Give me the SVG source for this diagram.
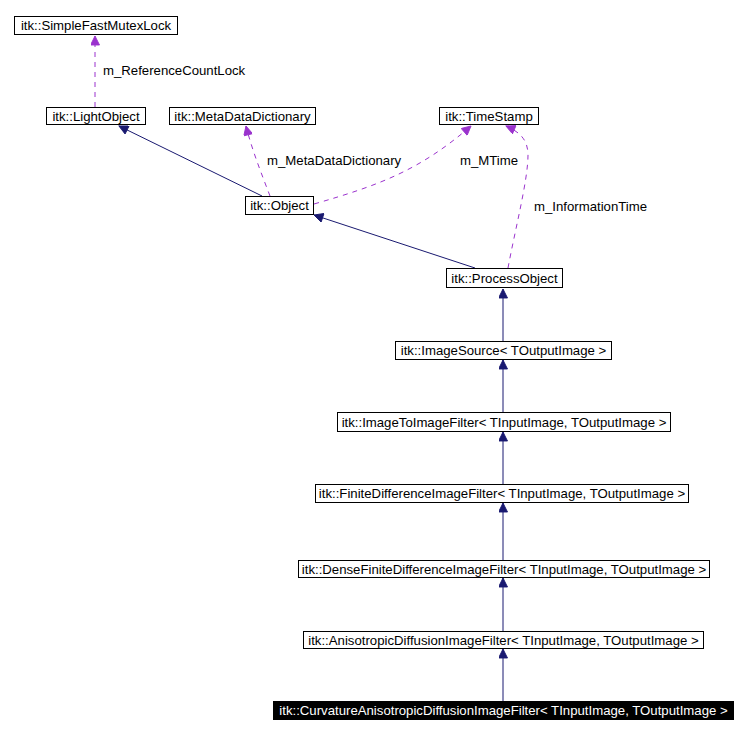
<svg xmlns="http://www.w3.org/2000/svg" width="746" height="734" viewBox="0 0 746 734">
<style>
.box{fill:#fff;stroke:#000;stroke-width:1}
.t{font-family:"Liberation Sans",Arial,sans-serif;font-size:13.2px;fill:#000;text-anchor:middle}
.lbl{font-family:"Liberation Sans",Arial,sans-serif;font-size:13.2px;fill:#000}
.inh{fill:none;stroke:#191970;stroke-width:1}
.use{fill:none;stroke:#9a32cd;stroke-width:1;stroke-dasharray:5,5}
</style>
<defs>
<marker id="ah" viewBox="0 0 10 10" refX="10" refY="5" markerWidth="14" markerHeight="9" markerUnits="userSpaceOnUse" orient="auto"><path d="M0,0 L10,5 L0,10 z" fill="#191970" stroke="#191970"/></marker>
<marker id="ap" viewBox="0 0 10 10" refX="10" refY="5" markerWidth="14" markerHeight="9" markerUnits="userSpaceOnUse" orient="auto"><path d="M0,0 L10,5 L0,10 z" fill="#9a32cd" stroke="#9a32cd"/></marker>
</defs>
<rect width="746" height="734" fill="#fff"/>
<g id="connectors">
<path class="use" d="M95,107 L95,36" marker-end="url(#ap)"/>
<path class="inh" d="M262,196 L119,126" marker-end="url(#ah)"/>
<path class="use" d="M270,196 C262,175 252,150 246,126" marker-end="url(#ap)"/>
<path class="use" d="M314,204 C380,185 420,170 471,126" marker-end="url(#ap)"/>
<path class="inh" d="M475,268 L314,215" marker-end="url(#ah)"/>
<path class="use" d="M508,268 C515,230 528,180 528,155 C528,140 520,132 506,126" marker-end="url(#ap)"/>
<path class="inh" d="M503,341 L503,289" marker-end="url(#ah)"/>
<path class="inh" d="M503,412 L503,360" marker-end="url(#ah)"/>
<path class="inh" d="M503,484 L503,432" marker-end="url(#ah)"/>
<path class="inh" d="M503,561 L503,503" marker-end="url(#ah)"/>
<path class="inh" d="M503,632 L503,578" marker-end="url(#ah)"/>
<path class="inh" d="M503,701 L503,649" marker-end="url(#ah)"/>
<text class="lbl" x="103" y="75">m_ReferenceCountLock</text>
<text class="lbl" x="267" y="165">m_MetaDataDictionary</text>
<text class="lbl" x="460" y="165">m_MTime</text>
<text class="lbl" x="534" y="211">m_InformationTime</text>
</g>
<g id="SimpleFastMutexLock"><rect class="box" x="14.5" y="16.5" width="163" height="18"/><text class="t" x="96" y="30">itk::SimpleFastMutexLock</text></g>
<g id="LightObject"><rect class="box" x="46.5" y="107.5" width="99" height="17"/><text class="t" x="96" y="121">itk::LightObject</text></g>
<g id="MetaDataDictionary"><rect class="box" x="169.5" y="107.5" width="146" height="17"/><text class="t" x="242.5" y="121">itk::MetaDataDictionary</text></g>
<g id="TimeStamp"><rect class="box" x="439.5" y="107.5" width="99" height="17"/><text class="t" x="489" y="121">itk::TimeStamp</text></g>
<g id="Object"><rect class="box" x="245.5" y="196.5" width="68" height="18"/><text class="t" x="279.5" y="210">itk::Object</text></g>
<g id="ProcessObject"><rect class="box" x="446.5" y="268.5" width="116" height="19"/><text class="t" x="504.5" y="283">itk::ProcessObject</text></g>
<g id="ImageSource"><rect class="box" x="395.5" y="341.5" width="216" height="18"/><text class="t" x="503.5" y="355">itk::ImageSource&lt; TOutputImage &gt;</text></g>
<g id="ImageToImageFilter"><rect class="box" x="337.5" y="412.5" width="333" height="19"/><text class="t" x="504" y="427">itk::ImageToImageFilter&lt; TInputImage, TOutputImage &gt;</text></g>
<g id="FiniteDifferenceImageFilter"><rect class="box" x="315.5" y="484.5" width="373" height="18"/><text class="t" x="502" y="498">itk::FiniteDifferenceImageFilter&lt; TInputImage, TOutputImage &gt;</text></g>
<g id="DenseFiniteDifferenceImageFilter"><rect class="box" x="298.5" y="560.5" width="411" height="17"/><text class="t" x="504" y="574">itk::DenseFiniteDifferenceImageFilter&lt; TInputImage, TOutputImage &gt;</text></g>
<g id="AnisotropicDiffusionImageFilter"><rect class="box" x="303.5" y="631.5" width="400" height="17"/><text class="t" x="503.5" y="645">itk::AnisotropicDiffusionImageFilter&lt; TInputImage, TOutputImage &gt;</text></g>
<g id="CurvatureAnisotropicDiffusionImageFilter"><rect x="273" y="701" width="461" height="19" fill="#000"/><text class="t" x="503.5" y="715" style="fill:#fff">itk::CurvatureAnisotropicDiffusionImageFilter&lt; TInputImage, TOutputImage &gt;</text></g>
</svg>
